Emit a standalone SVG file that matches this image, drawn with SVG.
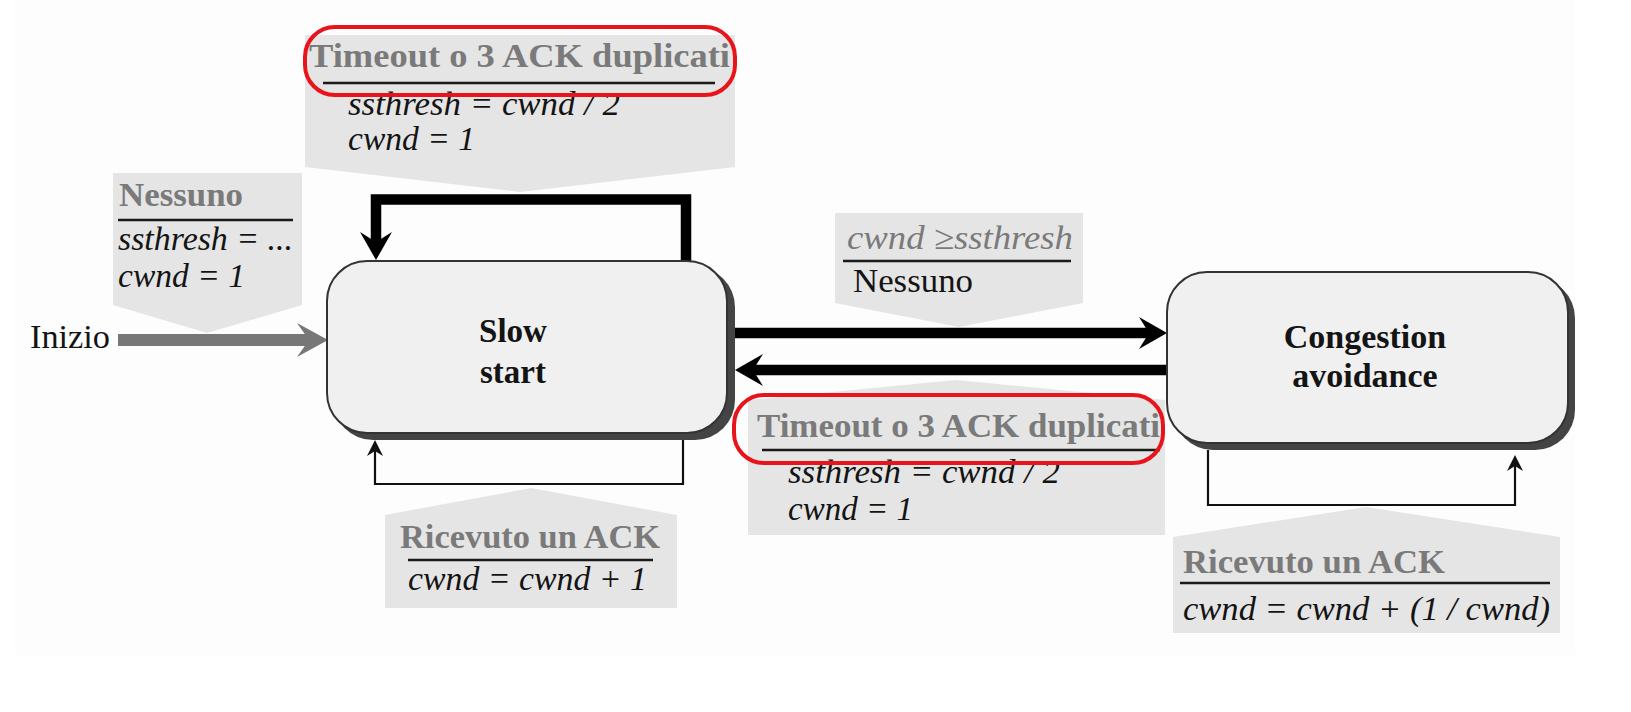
<svg xmlns="http://www.w3.org/2000/svg" width="1631" height="712" viewBox="0 0 1631 712">
<style>
text{font-family:"Liberation Serif","Times New Roman","DejaVu Serif",serif}
.lbl{fill:#e5e5e5}
.hdr{font-weight:bold;fill:#7a7a7a;font-size:33px}
.frm{font-style:italic;fill:#141414;font-size:34px}
.reg{fill:#141414;font-size:34px}
.st{font-weight:bold;fill:#141414;font-size:33px;text-anchor:middle}
.rule{stroke:#1a1a1a;stroke-width:2.5}
.state{fill:#f0f0f0;stroke:#333;stroke-width:2}
.shadow{fill:#444}
.thick{fill:none;stroke:#000;stroke-width:10.5}
.thin{fill:none;stroke:#111;stroke-width:2.2}
.red{fill:none;stroke:#e8141b;stroke-width:4}
</style>
<defs>
<marker id="big" markerUnits="userSpaceOnUse" viewBox="-12 -17 32 34" markerWidth="32" markerHeight="34" refX="0" refY="0" orient="auto" overflow="visible">
<path d="M18,0 L-10,-16 L0,0 L-10,16 Z" fill="#000"/>
</marker>
<marker id="gray" markerUnits="userSpaceOnUse" viewBox="-14 -18 34 36" markerWidth="34" markerHeight="36" refX="0" refY="0" orient="auto" overflow="visible">
<path d="M19,0 L-12,-17 L0,0 L-12,17 Z" fill="#777"/>
</marker>
<marker id="small" markerUnits="userSpaceOnUse" viewBox="-6 -9 20 18" markerWidth="20" markerHeight="18" refX="0" refY="0" orient="auto" overflow="visible">
<path d="M11,0 L-5,-8 L0,0 L-5,8 Z" fill="#111"/>
</marker>
</defs>
<rect x="0" y="0" width="1631" height="712" fill="#ffffff"/>
<rect x="15" y="0" width="1560" height="655" fill="#fdfdfd"/>

<g id="label-timeout-top">
<path class="lbl" d="M305,35 H735 V167 L520,192 L305,167 Z"/>
<text class="hdr" x="309" y="67" textLength="421" lengthAdjust="spacingAndGlyphs">Timeout o 3 ACK duplicati</text>
<line class="rule" x1="323" y1="83" x2="715" y2="83"/>
<text class="frm" x="348" y="115" textLength="272" lengthAdjust="spacingAndGlyphs">ssthresh = cwnd / 2</text>
<text class="frm" x="348" y="150" textLength="127" lengthAdjust="spacingAndGlyphs">cwnd = 1</text>
</g>

<g id="label-nessuno-start">
<path class="lbl" d="M113,173 H302 V305 L207,333 L113,305 Z"/>
<text class="hdr" x="119" y="206" textLength="124" lengthAdjust="spacingAndGlyphs">Nessuno</text>
<line class="rule" x1="118" y1="220" x2="293" y2="220"/>
<text class="frm" x="118" y="250" textLength="175" lengthAdjust="spacingAndGlyphs">ssthresh = ...</text>
<text class="frm" x="118" y="287" textLength="127" lengthAdjust="spacingAndGlyphs">cwnd = 1</text>
</g>

<g id="label-threshold">
<path class="lbl" d="M835,213 H1083 V303 L959,327 L835,303 Z"/>
<text class="frm" x="847" y="249" style="fill:#7a7a7a" textLength="226" lengthAdjust="spacingAndGlyphs">cwnd ≥ssthresh</text>
<line class="rule" x1="843" y1="261" x2="1071" y2="261"/>
<text class="reg" x="853" y="292" textLength="120" lengthAdjust="spacingAndGlyphs">Nessuno</text>
</g>

<g id="label-timeout-bottom">
<path class="lbl" d="M748,400 L956,380 L1165,400 V535 H748 Z"/>
<text class="hdr" x="757" y="437" textLength="403" lengthAdjust="spacingAndGlyphs">Timeout o 3 ACK duplicati</text>
<line class="rule" x1="762" y1="450" x2="1160" y2="450"/>
<text class="frm" x="788" y="483" textLength="272" lengthAdjust="spacingAndGlyphs">ssthresh = cwnd / 2</text>
<text class="frm" x="788" y="520" textLength="125" lengthAdjust="spacingAndGlyphs">cwnd = 1</text>
</g>

<g id="label-ack-ss">
<path class="lbl" d="M385,515 L531,488 L677,515 V608 H385 Z"/>
<text class="hdr" x="400" y="548" textLength="260" lengthAdjust="spacingAndGlyphs">Ricevuto un ACK</text>
<line class="rule" x1="408" y1="560" x2="653" y2="560"/>
<text class="frm" x="408" y="590" textLength="239" lengthAdjust="spacingAndGlyphs">cwnd = cwnd + 1</text>
</g>

<g id="label-ack-ca">
<path class="lbl" d="M1173,537 L1366,507 L1560,537 V633 H1173 Z"/>
<text class="hdr" x="1183" y="573" textLength="262" lengthAdjust="spacingAndGlyphs">Ricevuto un ACK</text>
<line class="rule" x1="1180" y1="583" x2="1550" y2="583"/>
<text class="frm" x="1183" y="620" textLength="367" lengthAdjust="spacingAndGlyphs">cwnd = cwnd + (1 / cwnd)</text>
</g>

<g id="connectors">
<path d="M118,340 H309" stroke="#777" stroke-width="12" fill="none" marker-end="url(#gray)"/>
<path class="thick" d="M686,262 V199.5 H376 V242" marker-end="url(#big)"/>
<path class="thin" d="M683,440 V484 H375 V451" marker-end="url(#small)"/>
<path class="thick" d="M735,333 H1149" marker-end="url(#big)"/>
<path class="thick" d="M1168,370 H753" marker-end="url(#big)"/>
<path class="thin" d="M1208,450 V505 H1515 V466" marker-end="url(#small)"/>
</g>

<g id="start">
<text class="reg" x="30" y="348" style="font-size:33px" textLength="80" lengthAdjust="spacingAndGlyphs">Inizio</text>
</g>

<g id="slow-start">
<rect class="shadow" x="333" y="267" width="402" height="173" rx="40"/>
<rect class="state" x="327" y="261" width="400" height="172" rx="40"/>
<text class="st" x="513" y="342">Slow</text>
<text class="st" x="513" y="383">start</text>
</g>

<g id="congestion-avoidance">
<rect class="shadow" x="1173" y="278" width="402" height="172" rx="40"/>
<rect class="state" x="1167" y="272" width="401" height="171" rx="40"/>
<text class="st" x="1365" y="348" style="font-size:34px">Congestion</text>
<text class="st" x="1365" y="387" style="font-size:34px">avoidance</text>
</g>

<g id="highlights">
<rect class="red" x="305" y="27" width="430" height="68" rx="30"/>
<rect class="red" x="734" y="395" width="429" height="68" rx="30"/>
</g>
</svg>
